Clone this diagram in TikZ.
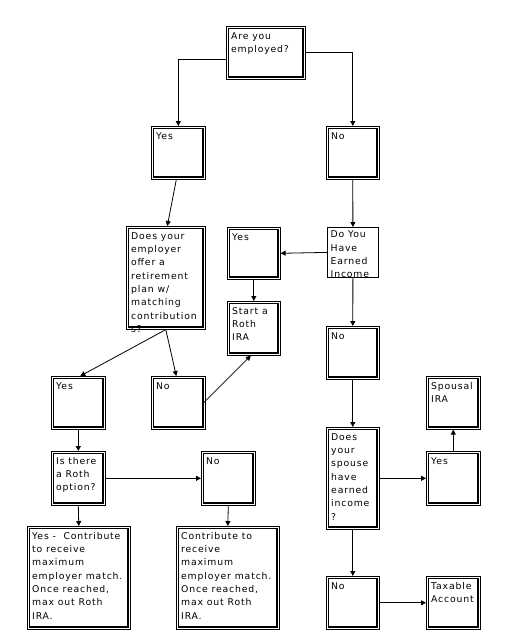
\documentclass[tikz,border=0pt]{standalone}
\usepackage{fontspec}
\setmainfont{DejaVu Sans}[LetterSpace=9]
\usetikzlibrary{arrows.meta}
\tikzset{
  dbox/.style={draw, line width=0.6pt, rectangle, inner sep=0pt, anchor=north west,
    path picture={
      \draw[line width=0.7pt] ([shift={(2pt,-2pt)}]path picture bounding box.north west) rectangle ([shift={(-2pt,2pt)}]path picture bounding box.south east);
      \draw[line width=1.5pt] ([shift={(2pt,2.2pt)}]path picture bounding box.south west) -- ([shift={(-2.2pt,2.2pt)}]path picture bounding box.south east) -- ([shift={(-2.2pt,-2pt)}]path picture bounding box.north east);
    }},
  sbox/.style={draw, line width=0.8pt, rectangle, inner sep=0pt, anchor=north west},
  txt/.style={inner sep=0pt, anchor=north west, align=left, font=\fontsize{9.3pt}{13.33pt}\selectfont},
  conn/.style={line width=0.8pt, -{Triangle[length=5pt,width=5pt]}},
}
\newcommand\bx[7][dbox]{%
  \node[#1, minimum width=#4pt, minimum height=#5pt] (#2) at (#3) {};
  \node[txt] (#2t) at ([shift={(#6)}]#2.north west) {\rule{0pt}{7pt}#7};
}
\begin{document}
\begin{tikzpicture}[x=1pt,y=-1pt]
\useasboundingbox[fill=white] (0,0) rectangle (512,643);
\bx{emp}{226,26}{79}{53}{5pt,-6pt}{Are you\\employed?}
\bx{yesA}{151,126}{54}{53}{5pt,-6pt}{Yes}
\bx{noA}{326,126}{53}{53}{5pt,-6pt}{No}
\bx{emplr}{126,226}{79}{103}{5pt,-6pt}{Does your\\employer\\offer a\\retirement\\plan w/\\matching\\contribution\\s?}
\bx{yesB}{227,227}{53}{52}{5pt,-6pt}{Yes}
\bx{roth}{227,301}{53}{54}{5pt,-6pt}{Start a\\Roth\\IRA}
\bx[sbox]{earn}{327,227}{51}{50}{3.5pt,-3.5pt}{Do You\\Have\\Earned\\Income}
\bx{yesC}{51,376}{54}{53}{5pt,-6pt}{Yes}
\bx{noB}{151,376}{54}{53}{5pt,-6pt}{No}
\bx{noC}{326,326}{53}{53}{5pt,-6pt}{No}
\bx{spira}{426,376}{54}{53}{5pt,-6pt}{Spousal\\IRA}
\bx{isroth}{51,451}{54}{54}{5pt,-6pt}{Is there\\a Roth\\option?}
\bx{noD}{201,451}{54}{54}{5pt,-6pt}{No}
\bx{ycontr}{27,526}{103}{103}{5pt,-6pt}{Yes -\ \ Contribute\\to receive\\maximum\\employer match.\\Once reached,\\max out Roth\\IRA.}
\bx{contr}{176,526}{103}{103}{5pt,-6pt}{Contribute to\\receive\\maximum\\employer match.\\Once reached,\\max out Roth\\IRA.}
\bx{spouse}{326,427}{53}{102}{5pt,-6pt}{Does\\your\\spouse\\have\\earned\\income\\?}
\bx{yesD}{426,451}{54}{54}{5pt,-6pt}{Yes}
\bx{noE}{326,576}{53}{53}{5pt,-6pt}{No}
\bx{tax}{426,576}{54}{53}{5pt,-6pt}{Taxable\\Account}

\draw[conn] ([yshift=-6.5pt]emp.west) -| (yesA.north);
\draw[conn] (emp.east) -| (noA.north);
\draw[conn] ([xshift=-2pt]yesA.south) -- ([xshift=1.5pt]emplr.north);
\draw[conn] (noA.south) -- (earn.north);
\draw[conn] (earn.west) -- (yesB.east);
\draw[conn] (yesB.south) -- (roth.north);
\draw[conn] (emplr.south) -- ([xshift=2pt]yesC.north);
\draw[conn] (emplr.south) -- ([xshift=-2pt]noB.north);
\draw[conn] ([xshift=-2pt]noB.east) -- ([xshift=-3pt]roth.south);
\draw[conn] (earn.south) -- (noC.north);
\draw[conn] (noC.south) -- (spouse.north);
\draw[conn] (yesC.south) -- (isroth.north);
\draw[conn] (isroth.east) -- (noD.west);
\draw[conn] (isroth.south) -- (ycontr.north);
\draw[conn] (noD.south) -- (contr.north);
\draw[conn] (spouse.east) -- (yesD.west);
\draw[conn] (yesD.north) -- (spira.south);
\draw[conn] (spouse.south) -- (noE.north);
\draw[conn] (noE.east) -- (tax.west);
\end{tikzpicture}
\end{document}
